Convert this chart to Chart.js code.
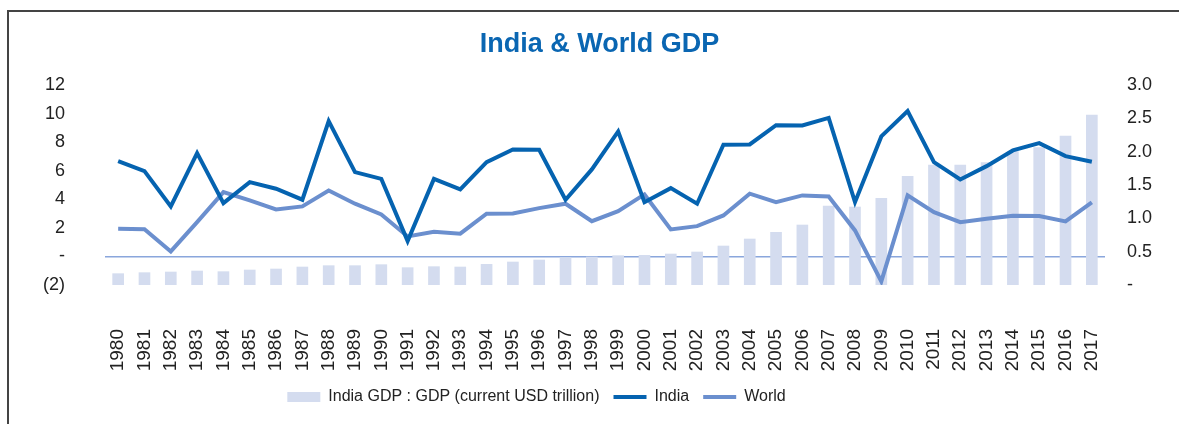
<!DOCTYPE html>
<html>
<head>
<meta charset="utf-8">
<script src="https://cdn.jsdelivr.net/npm/chart.js@4"></script>
<style>
  body { margin: 0; background: #fff; }
  #wrap { position: relative; width: 1179px; height: 424px; }
  #frame { position: absolute; left: 7px; top: 10px; right: 0; bottom: 0;
           border-top: 2px solid #444; border-left: 2px solid #444; pointer-events: none; }
  canvas { position: absolute; left: 0; top: 0; }
</style>
</head>
<body>
<div id="wrap">
  <canvas id="myChart1" width="1179" height="424"></canvas>
  <div id="frame"></div>
</div>
<script>
// dữ liệu
const years = ['1980','1981','1982','1983','1984','1985','1986','1987','1988','1989',
  '1990','1991','1992','1993','1994','1995','1996','1997','1998','1999',
  '2000','2001','2002','2003','2004','2005','2006','2007','2008','2009',
  '2010','2011','2012','2013','2014','2015','2016','2017'];

// India GDP, current USD trillion (right axis)
const indiaGdp = [0.17, 0.185, 0.195, 0.21, 0.20, 0.225, 0.24, 0.27, 0.29, 0.29,
  0.305, 0.26, 0.275, 0.27, 0.31, 0.345, 0.375, 0.41, 0.42, 0.44,
  0.445, 0.465, 0.495, 0.585, 0.69, 0.79, 0.90, 1.185, 1.17, 1.30,
  1.63, 1.80, 1.80, 1.835, 2.0, 2.06, 2.235, 2.55];

// GDP growth %, left axis
const indiaGrowth = [6.67, 5.97, 3.5, 7.23, 3.73, 5.2, 4.74, 3.97, 9.47, 5.9,
  5.43, 1.07, 5.43, 4.69, 6.6, 7.49, 7.47, 3.97, 6.09, 8.75,
  3.8, 4.78, 3.69, 7.82, 7.84, 9.19, 9.17, 9.7, 3.8, 8.4,
  10.17, 6.6, 5.39, 6.32, 7.42, 7.93, 7.02, 6.63];

const worldGrowth = [1.94, 1.91, 0.35, 2.4, 4.5, 3.92, 3.29, 3.5, 4.62, 3.69,
  2.94, 1.4, 1.73, 1.59, 2.99, 3.0, 3.38, 3.69, 2.47, 3.17,
  4.34, 1.89, 2.12, 2.87, 4.39, 3.8, 4.27, 4.2, 1.82, -1.75,
  4.27, 3.1, 2.4, 2.64, 2.85, 2.83, 2.45, 3.78];

const leftTicks = { min: -2, max: 12, step: 2 };
const rightTicks = { min: 0, max: 3, step: 0.5 };

const darkBlue = '#0563b0';
const lightBlue = '#6b8fce';
const barColor = '#d4dcef';

// dời chú thích sang trái, tiêu đề sang phải một chút như hình gốc
const boxShift = {
  id: 'boxShift',
  afterLayout: function (chart) {
    chart.legend.left -= 53;
    chart.legend.right -= 53;
    chart.titleBlock.left += 10;
    chart.titleBlock.right += 10;
  }
};

new Chart(document.getElementById('myChart1'), {
  type: 'bar',
  plugins: [boxShift],
  data: {
    labels: years,
    datasets: [{
      label: 'India GDP : GDP (current USD trillion)',
      data: indiaGdp,
      backgroundColor: barColor,
      borderWidth: 0,
      barThickness: 11,
      yAxisID: 'y2',
      order: 1
    }, {
      type: 'line',
      label: 'India',
      data: indiaGrowth,
      borderColor: darkBlue,
      backgroundColor: darkBlue,
      borderWidth: 4,
      pointRadius: 0,
      tension: 0,
      yAxisID: 'y',
      order: 0
    }, {
      type: 'line',
      label: 'World',
      data: worldGrowth,
      borderColor: lightBlue,
      backgroundColor: lightBlue,
      borderWidth: 4,
      pointRadius: 0,
      tension: 0,
      yAxisID: 'y',
      order: 0
    }]
  },
  options: {
    responsive: false,
    animation: false,
    layout: { padding: { left: 0, right: 0, top: 0, bottom: 9 } },
    plugins: {
      tooltip: { enabled: false },
      title: {
        display: true,
        text: 'India & World GDP',
        color: '#0a66b2',
        font: { family: "'Liberation Sans', sans-serif", size: 27, weight: 'bold' },
        padding: { top: 28, bottom: 24.6 }
      },
      legend: {
        position: 'bottom',
        labels: {
          color: '#222',
          font: { family: "'Liberation Sans', sans-serif", size: 16 },
          usePointStyle: true,
          pointStyleWidth: 33,
          boxHeight: 10,
          padding: 14,
          sort: function (a, b) { return a.datasetIndex - b.datasetIndex; },
          generateLabels: function (chart) {
            const items = Chart.defaults.plugins.legend.labels.generateLabels(chart);
            items.forEach(function (it) {
              it.pointStyle = it.datasetIndex === 0 ? 'rect' : 'line';
              if (it.datasetIndex !== 0) it.lineWidth = 4;
            });
            return items;
          }
        }
      }
    },
    scales: {
      x: {
        grid: { display: false, drawTicks: false },
        border: { display: false },
        ticks: {
          color: '#222',
          font: { family: "'Liberation Sans', sans-serif", size: 19 },
          minRotation: 90,
          maxRotation: 90,
          autoSkip: false,
          padding: 44
        },
        afterFit: function (s) { s.height = 90; }
      },
      y: {
        position: 'left',
        min: leftTicks.min,
        max: leftTicks.max,
        border: { display: false },
        grid: {
          drawTicks: false,
          lineWidth: 1.5,
          color: function (ctx) { return ctx.tick && ctx.tick.value === 0 ? '#8aa6dc' : 'rgba(0,0,0,0)'; }
        },
        ticks: {
          stepSize: leftTicks.step,
          color: '#222',
          font: { family: "'Liberation Sans', sans-serif", size: 18 },
          padding: 40,
          callback: function (v) {
            if (v === 0) return '-';
            if (v < 0) return '(' + Math.abs(v) + ')';
            return v;
          }
        },
        afterFit: function (s) { s.width = 105; }
      },
      y2: {
        position: 'right',
        min: rightTicks.min,
        max: rightTicks.max,
        border: { display: false },
        grid: { display: false, drawOnChartArea: false, drawTicks: false },
        ticks: {
          stepSize: rightTicks.step,
          color: '#222',
          font: { family: "'Liberation Sans', sans-serif", size: 18 },
          padding: 22,
          callback: function (v) { return v === 0 ? '-' : v.toFixed(1); }
        },
        afterFit: function (s) { s.width = 74; }
      }
    }
  }
});
</script>
</body>
</html>
